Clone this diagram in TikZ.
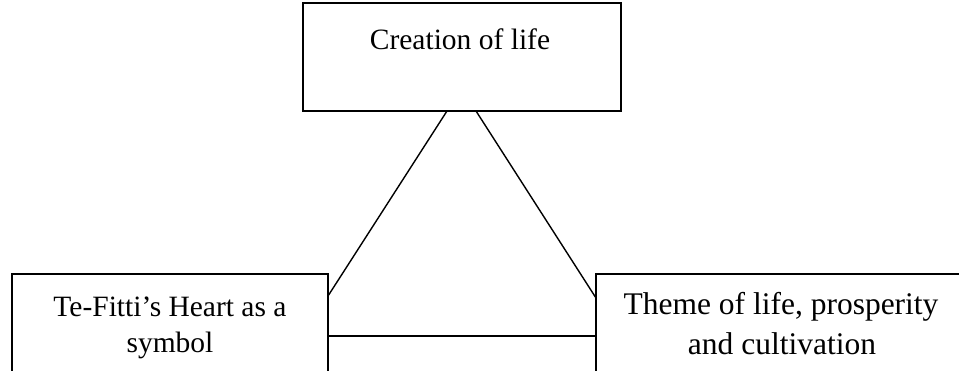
\documentclass[tikz,border=0pt]{standalone}
\usepackage{fontspec}
\setmainfont{Liberation Serif}
\begin{document}
\begin{tikzpicture}[x=1pt,y=-1pt,
  boxst/.style={draw=black,line width=1.4pt,rectangle,inner sep=0pt},
  conn/.style={draw=black,line width=1.4pt},
  lbl/.style={anchor=base,inner sep=0pt,text=black}]
\clip (0,0) rectangle (959,371);
\fill[white] (0,0) rectangle (959,371);
% boxes
\node[boxst,minimum width=318pt,minimum height=108pt] (top) at (462,57) {};
\node[boxst,minimum width=316pt,minimum height=130pt] (left) at (170,339) {};
\node[boxst,minimum width=400pt,minimum height=130pt] (right) at (796,339) {};
% texts
\node[lbl,font=\fontsize{29.5}{29.5}\selectfont] (t1) at (460,50) {Creation of life};
\node[lbl,font=\fontsize{29.5}{29.5}\selectfont] (l1) at (170,317) {Te-Fitti’s Heart as a};
\node[lbl,font=\fontsize{29.5}{29.5}\selectfont] (l2) at (170,353) {symbol};
\node[lbl,font=\fontsize{31.5}{31.5}\selectfont] (r1) at (781,315) {Theme of life, prosperity};
\node[lbl,font=\fontsize{31.5}{31.5}\selectfont] (r2) at (782,355) {and cultivation};
% connectors
\coordinate (a1) at (447,111);
\coordinate (a2) at (476,111);
\coordinate (b1) at (328,296);
\coordinate (b2) at (596,298);
\coordinate (c1) at (328,336);
\coordinate (c2) at (596,336);
\draw[conn] (a1) -- (b1);
\draw[conn] (a2) -- (b2);
\draw[conn] (c1) -- (c2);
\end{tikzpicture}
\end{document}
